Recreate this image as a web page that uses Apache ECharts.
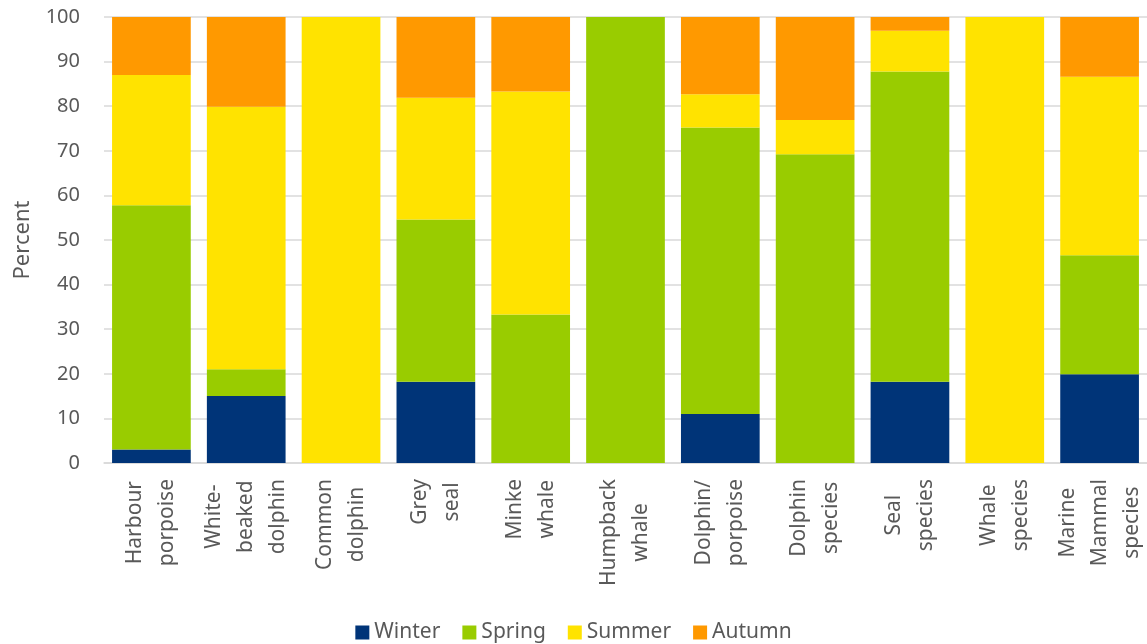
<!DOCTYPE html>
<html>
<head>
<meta charset="utf-8">
<script src="https://cdn.jsdelivr.net/npm/echarts@6/dist/echarts.min.js"></script>
<style>html,body{margin:0;padding:0;background:#fff}#c{width:1147px;height:644px}</style>
</head>
<body>
<div id="c"></div>
<script>
var categories = ["Harbour\nporpoise", "White-\nbeaked\ndolphin", "Common\ndolphin", "Grey\nseal", "Minke\nwhale", "Humpback\nwhale", "Dolphin/\nporpoise", "Dolphin\nspecies", "Seal\nspecies", "Whale\nspecies", "Marine\nMammal\nspecies"];
var winter = [3.0, 15.0, 0, 18.2, 0, 0, 11.0, 0, 18.2, 0, 19.9];
var spring = [54.8, 6.0, 0, 36.4, 33.3, 100, 64.2, 69.2, 69.6, 0, 26.7];
var summer = [29.2, 58.9, 100, 27.3, 50.0, 0, 7.5, 7.7, 9.1, 100, 40.0];
var autumn = [13.0, 20.1, 0, 18.1, 16.7, 0, 17.3, 23.1, 3.1, 0, 13.4];
var seriesNames = ["Winter", "Spring", "Summer", "Autumn"];
var colors = ["#003478", "#99CC00", "#FFE300", "#FF9900"];
var yTicks = {min: 0, max: 100, interval: 10};

var FONT = "Noto Sans";
var TXT = "#595959";
var chart = echarts.init(document.getElementById('c'));
var data = [winter, spring, summer, autumn];
chart.setOption({
  animation: false,
  color: colors,
  textStyle: {fontFamily: FONT},
  grid: {left: 104, right: 0, top: 17, bottom: 181},
  legend: {
    top: 617, left: 'center', icon: 'rect', itemWidth: 14, itemHeight: 14, itemGap: 22, itemTextGap: 6,
    textStyle: {fontSize: 21, color: TXT, fontFamily: FONT},
    data: seriesNames
  },
  xAxis: {
    type: 'category', data: categories,
    axisTick: {show: false},
    axisLine: {lineStyle: {color: '#D9D9D9', width: 1.5}},
    axisLabel: {
      interval: 0, rotate: 90, margin: 16,
      formatter: function (v) { return v.split('\n').map(function (s) { return '{c|' + s + '}'; }).join('\n'); },
      rich: {c: {align: 'center', fontSize: 21, color: TXT, lineHeight: 32, fontFamily: FONT}}
    }
  },
  yAxis: {
    type: 'value', min: yTicks.min, max: yTicks.max, interval: yTicks.interval,
    name: 'Percent', nameLocation: 'middle', nameGap: 70,
    nameTextStyle: {fontSize: 22, color: TXT, fontFamily: FONT},
    axisLine: {show: false}, axisTick: {show: false},
    axisLabel: {fontSize: 20, color: TXT, margin: 24, fontFamily: FONT},
    splitLine: {lineStyle: {color: '#D9D9D9', width: 1.5}}
  },
  series: seriesNames.map(function (n, i) {
    return {
      name: n, type: 'bar', stack: 'total', data: data[i],
      barCategoryGap: '17%',
      itemStyle: {color: colors[i]}
    };
  })
});
</script>
</body>
</html>
